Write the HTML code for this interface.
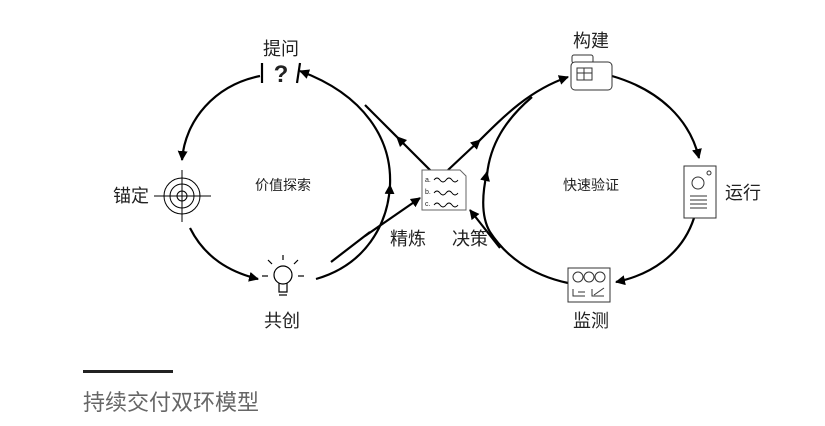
<!DOCTYPE html>
<html><head><meta charset="utf-8"><style>
html,body{margin:0;padding:0;background:#fff;}
body{width:825px;height:426px;overflow:hidden;position:relative;font-family:"Liberation Sans","Noto Sans CJK SC",sans-serif;}
svg{position:absolute;left:0;top:0;}
.t{font-family:"Liberation Sans","Noto Sans CJK SC",sans-serif;fill:#222;}
</style></head><body>
<svg width="825" height="426" viewBox="0 0 825 426">
<defs>
<marker id="a" markerWidth="10" markerHeight="10" refX="9" refY="5" orient="auto" markerUnits="userSpaceOnUse" viewBox="0 0 10 10"><path d="M0,0 L10,5 L0,10 z" fill="#000"/></marker>
</defs>
<g fill="none" stroke="#000" stroke-width="2.2">
<!-- left circle -->
<path d="M260,76 C215,85 185,120 182,160" marker-end="url(#a)"/>
<path d="M190,228 C205,258 230,272 258,279" marker-end="url(#a)"/>
<path d="M316,279 C365,265 388,225 390,185" marker-end="url(#a)"/>
<path d="M390,185 C392,140 365,95 300,71" marker-end="url(#a)"/>
<path d="M331,262 L370,232" />
<path d="M365,236 L420,198" marker-end="url(#a)"/>
<path d="M432,172 L365,105"/>
<!-- right circle -->
<path d="M448,170 L480,140" marker-end="url(#a)"/>
<path d="M478,142 C505,115 530,90 568,77" marker-end="url(#a)"/>
<path d="M612,76 C660,90 690,120 699,158" marker-end="url(#a)"/>
<path d="M694,218 C682,255 650,275 616,282" marker-end="url(#a)"/>
<path d="M568,283 C530,275 505,255 490,232 C480,215 483,190 487,172" marker-end="url(#a)"/>
<path d="M487,175 C490,145 505,120 532,97"/>
<path d="M500,248 L470,210" marker-end="url(#a)"/>
</g>
<path d="M396,136 L407,140 L400,147 z" fill="#000"/>
<!-- question -->
<g stroke="#000" stroke-width="2.2"><line x1="262" y1="63" x2="262" y2="83"/><line x1="300" y1="63" x2="297" y2="83"/></g>
<text x="281" y="82" text-anchor="middle" font-size="24" font-weight="bold" class="t" style="font-family:'Liberation Sans',sans-serif">?</text>
<!-- target -->
<g fill="none" stroke="#000" stroke-width="1"><circle cx="182" cy="196" r="18"/><circle cx="182" cy="196" r="12"/><circle cx="182" cy="196" r="5"/><line x1="154" y1="196" x2="211" y2="196"/><line x1="182" y1="170" x2="182" y2="222"/></g>
<!-- bulb -->
<g fill="none" stroke="#000" stroke-width="1.2"><circle cx="283" cy="275" r="9"/><path d="M279,283 L279,292 L287,292 L287,283"/><line x1="279" y1="295" x2="287" y2="295"/><line x1="283" y1="255" x2="283" y2="260"/><line x1="268" y1="260" x2="272" y2="264"/><line x1="298" y1="260" x2="294" y2="264"/><line x1="262" y1="276" x2="268" y2="276"/><line x1="298" y1="276" x2="304" y2="276"/></g>
<!-- doc -->
<g fill="#fff" stroke="#666" stroke-width="1"><path d="M422,170 L460,170 L466,176 L466,210 L422,210 z"/></g>
<g font-size="7" class="t"><text x="425" y="182">a.</text><text x="425" y="194">b.</text><text x="425" y="206">c.</text></g>
<g fill="none" stroke="#000" stroke-width="0.9"><path d="M434,180 q3,-4 6,0 t6,0 t6,0 t6,0"/><path d="M434,193 q3,-4 6,0 t6,0 t6,0 t6,0"/><path d="M434,205 q3,-4 6,0 t6,0 t6,0 t6,0"/></g>
<!-- build -->
<g fill="#fff" stroke="#333" stroke-width="1"><rect x="572" y="55" width="21" height="8" rx="2"/><rect x="571" y="62" width="41" height="28" rx="4"/><rect x="577" y="68" width="15" height="12"/><line x1="584" y1="68" x2="584" y2="80"/><line x1="577" y1="73" x2="592" y2="73"/></g>
<!-- run -->
<g fill="#fff" stroke="#333" stroke-width="1"><rect x="684" y="166" width="32" height="52"/><circle cx="698" cy="183" r="6"/><circle cx="709" cy="173" r="2"/><line x1="690" y1="196" x2="707" y2="196"/><line x1="690" y1="200" x2="707" y2="200"/><line x1="690" y1="204" x2="707" y2="204"/><line x1="690" y1="208" x2="707" y2="208"/></g>
<!-- monitor -->
<g fill="#fff" stroke="#333" stroke-width="1"><rect x="568" y="268" width="42" height="34"/><circle cx="578" cy="277" r="5"/><circle cx="589" cy="277" r="5"/><circle cx="600" cy="277" r="5"/><path d="M573,289 L573,296 L585,296 M578,292 L585,292 M592,289 L592,296 L604,296 M594,295 L604,288"/></g>
<!-- labels -->
<g class="t" font-size="18">
<text x="281" y="55" text-anchor="middle">提问</text>
<text x="113" y="202">锚定</text>
<text x="282" y="327" text-anchor="middle">共创</text>
<text x="390" y="245">精炼</text>
<text x="452" y="245">决策</text>
<text x="591" y="47" text-anchor="middle">构建</text>
<text x="725" y="199">运行</text>
<text x="591" y="327" text-anchor="middle">监测</text>
</g>
<g class="t" font-size="14" fill="#333"><text x="283" y="190" text-anchor="middle">价值探索</text><text x="591" y="190" text-anchor="middle">快速验证</text></g>
<rect x="83" y="370" width="90" height="3" fill="#222"/>
<text x="83" y="410" font-size="22" fill="#666" class="t" style="fill:#666">持续交付双环模型</text>
</svg>
</body></html>
